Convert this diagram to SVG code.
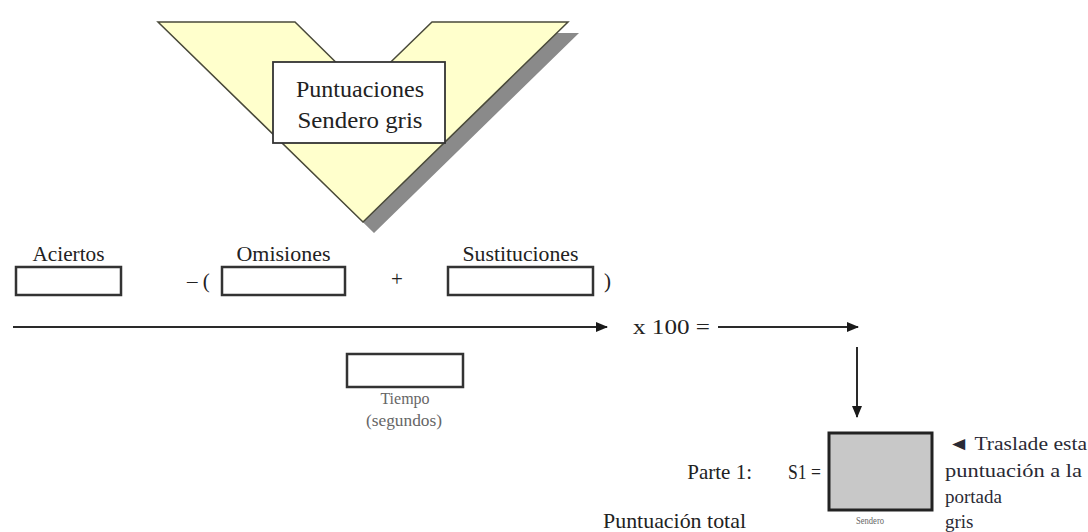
<svg xmlns="http://www.w3.org/2000/svg" width="1088" height="532" viewBox="0 0 1088 532" font-family="'Liberation Serif', 'DejaVu Serif', serif">
  <style>
    text { font-family: "Liberation Serif", "DejaVu Serif", serif; fill: #222; }
    .lbl { font-size: 21px; }
    .title { font-size: 24px; }
    .small { font-size: 16px; fill: #666; }
    .tiny { font-size: 11px; fill: #666; }
    .side { font-size: 19px; fill: #2a2a35; }
    .box { fill: #fff; stroke: #333; stroke-width: 2.5; }
    .conn { stroke: #2a2a2a; stroke-width: 2; fill: none; }
  </style>
  <defs>
    <marker id="arr" viewBox="0 0 12 10" refX="11" refY="5" markerWidth="12" markerHeight="10" markerUnits="userSpaceOnUse" orient="auto">
      <path d="M0,0 L12,5 L0,10 Z" fill="#1a1a1a"/>
    </marker>
  </defs>

  <g id="chevron">
    <polygon points="169,33 306,33 374,100 443,33 579,33 374,233" fill="#8a8a8a"/>
    <polygon points="158,22 295,22 363,89 432,22 568,22 363,222" fill="#FFFFCC" stroke="#4a4a3a" stroke-width="1.5"/>
  </g>

  <g id="title-box">
    <rect x="273" y="62" width="172" height="81" fill="#fff" stroke="#333" stroke-width="1.8"/>
    <text class="title" x="360" y="97" text-anchor="middle" textLength="128" lengthAdjust="spacingAndGlyphs">Puntuaciones</text>
    <text class="title" x="360" y="128" text-anchor="middle" textLength="125" lengthAdjust="spacingAndGlyphs">Sendero gris</text>
  </g>

  <g id="aciertos">
    <text class="lbl" x="68.5" y="261" text-anchor="middle" textLength="72" lengthAdjust="spacingAndGlyphs">Aciertos</text>
    <rect class="box" x="16" y="267" width="105" height="28"/>
  </g>

  <g id="omisiones">
    <text class="lbl" x="187" y="288">– (</text>
    <text class="lbl" x="283.5" y="261" text-anchor="middle" textLength="94" lengthAdjust="spacingAndGlyphs">Omisiones</text>
    <rect class="box" x="222" y="267" width="123" height="28"/>
  </g>

  <g id="plus">
    <text class="lbl" x="397" y="286" text-anchor="middle">+</text>
  </g>

  <g id="sustituciones">
    <text class="lbl" x="520.5" y="261" text-anchor="middle" textLength="116" lengthAdjust="spacingAndGlyphs">Sustituciones</text>
    <rect class="box" x="448" y="267" width="145" height="28"/>
    <text class="lbl" x="604" y="288">)</text>
  </g>

  <g id="tiempo">
    <rect class="box" x="347" y="354" width="116" height="33"/>
    <text class="small" x="405" y="404" text-anchor="middle">Tiempo</text>
    <text class="small" x="404" y="426" text-anchor="middle" textLength="76" lengthAdjust="spacingAndGlyphs">(segundos)</text>
  </g>

  <g id="multiplier">
    <text x="633" y="334" font-size="22" textLength="77" lengthAdjust="spacingAndGlyphs">x 100 =</text>
  </g>

  <g id="result">
    <rect x="829" y="433" width="103" height="77" fill="#c8c8c8" stroke="#222" stroke-width="3"/>
    <text class="lbl" x="752" y="479" text-anchor="end">Parte 1:</text>
    <text class="lbl" x="788" y="479" textLength="33" lengthAdjust="spacingAndGlyphs">S1 =</text>
    <text class="lbl" x="603" y="528" textLength="143" lengthAdjust="spacingAndGlyphs">Puntuación total</text>
    <text class="tiny" x="870" y="524" text-anchor="middle" textLength="28" lengthAdjust="spacingAndGlyphs">Sendero</text>
  </g>

  <g id="note">
    <text class="side" x="948" y="450" textLength="139" lengthAdjust="spacingAndGlyphs">◄ Traslade esta</text>
    <text class="side" x="945" y="477" textLength="137" lengthAdjust="spacingAndGlyphs">puntuación a la</text>
    <text class="side" x="945" y="503">portada</text>
    <text class="side" x="945" y="528">gris</text>
  </g>

  <g id="connectors">
    <line class="conn" x1="13" y1="327" x2="607" y2="327" marker-end="url(#arr)"/>
    <line class="conn" x1="718" y1="327" x2="858" y2="327" marker-end="url(#arr)"/>
    <line class="conn" x1="857" y1="347" x2="857" y2="417" marker-end="url(#arr)"/>
  </g>
</svg>
